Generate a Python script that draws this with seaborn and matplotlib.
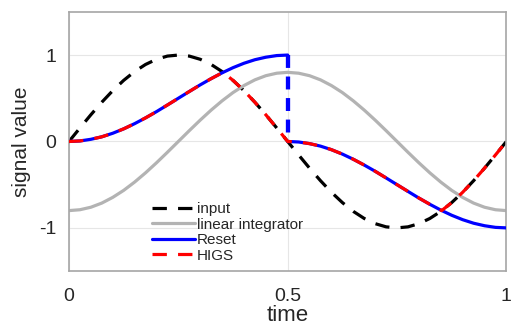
import numpy as np
import seaborn as sns
import matplotlib.pyplot as plt

# time grid (step 0.025)
t = [i * 0.025 for i in range(41)]

input_sig = [0, .156, .309, .454, .588, .707, .809, .891, .951, .988, 1,
             .988, .951, .891, .809, .707, .588, .454, .309, .156, 0,
             -.156, -.309, -.454, -.588, -.707, -.809, -.891, -.951, -.988, -1,
             -.988, -.951, -.891, -.809, -.707, -.588, -.454, -.309, -.156, 0]

linear_int = [-.8, -.790, -.761, -.713, -.647, -.566, -.470, -.363, -.247, -.125, 0,
              .125, .247, .363, .470, .566, .647, .713, .761, .790, .8,
              .790, .761, .713, .647, .566, .470, .363, .247, .125, 0,
              -.125, -.247, -.363, -.470, -.566, -.647, -.713, -.761, -.790, -.8]

t_first = t[:21]
t_second = t[20:]
reset_first = [0, .006, .025, .054, .095, .146, .206, .273, .345, .422, .5,
               .578, .655, .727, .794, .854, .905, .946, .975, .994, 1.0]
reset_second = [0, -.006, -.025, -.054, -.095, -.146, -.206, -.273, -.345, -.422, -.5,
                -.578, -.655, -.727, -.794, -.854, -.905, -.946, -.975, -.994, -1.0]

higs_t = t[:15] + [0.352] + t[15:35] + [0.852] + t[35:]
higs = ([0, .006, .025, .054, .095, .146, .206, .273, .345, .422, .5, .578, .655, .727, .794]
        + [.80]
        + [.707, .588, .454, .309, .156, 0]
        + [-.006, -.025, -.054, -.095, -.146, -.206, -.273, -.345, -.422, -.5, -.578, -.655, -.727, -.794]
        + [-.80]
        + [-.707, -.588, -.454, -.309, -.156, 0])

sns.set_style("white")
plt.rcParams['font.family'] = ['Liberation Sans', 'DejaVu Sans']

fig = plt.figure(figsize=(5.11, 3.29), dpi=100)
ax = fig.add_axes([0.135, 0.176, 0.856, 0.788])

lw = 2.3
sns.lineplot(x=t, y=input_sig, ax=ax, color="black", lw=lw, label="input",
             linestyle=(0, (4.5, 3.5)), zorder=2)
sns.lineplot(x=t, y=linear_int, ax=ax, color="#b3b3b3", lw=lw, label="linear integrator", zorder=2)
sns.lineplot(x=t_first, y=reset_first, ax=ax, color="blue", lw=lw, label="Reset", zorder=3)
sns.lineplot(x=t_second, y=reset_second, ax=ax, color="blue", lw=lw, zorder=3)
ax.plot([t_first[-1], t_second[0]], [reset_first[-1], reset_second[0]], color="blue",
        lw=lw + 0.8, linestyle=(0, (3, 2)), zorder=3)
sns.lineplot(x=higs_t, y=higs, ax=ax, color="red", lw=lw, label="HIGS",
             linestyle=(0, (4.5, 3.5)), zorder=4)

ax.set_xlim(0, 1)
ax.set_ylim(-1.5, 1.5)
ax.set_xticks([0, 0.5, 1])
ax.set_xticklabels(["0", "0.5", "1"])
ax.set_yticks([-1, 0, 1])
ax.set_yticklabels(["-1", "0", "1"])
ax.grid(True, color="#e6e6e6", lw=0.8)
ax.tick_params(direction="in", length=3, color="#999999", labelsize=14, labelcolor="#262626")
ax.tick_params(axis="x", pad=12)
ax.tick_params(axis="y", pad=9)
for s in ax.spines.values():
    s.set_color("#a6a6a6")
    s.set_linewidth(1.2)
ax.set_xlabel("time", fontsize=16, color="#262626", labelpad=0)
ax.set_ylabel("signal value", fontsize=15, color="#262626", labelpad=6)

ax.legend(loc="lower left", bbox_to_anchor=(0.17, 0.0), frameon=False, fontsize=11,
          handlelength=2.8, handletextpad=0.15, labelspacing=0.1, borderaxespad=0.15)

fig.savefig("out.png", dpi=100)
